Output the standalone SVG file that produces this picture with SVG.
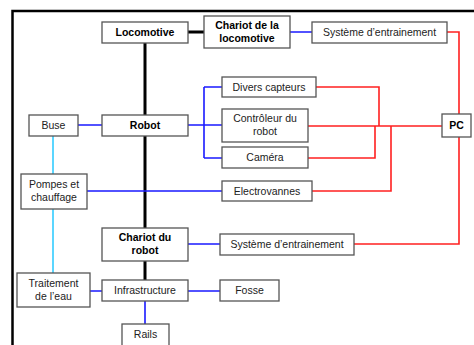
<svg xmlns="http://www.w3.org/2000/svg" width="474" height="345" viewBox="0 0 474 345">
<style>
.bx{fill:#fff;stroke:#555;stroke-width:1.3}
.t{font-family:"Liberation Sans",Arial,sans-serif;font-size:10.5px;fill:#222;text-anchor:middle}
.b{font-weight:bold;fill:#000}
.k{stroke:#000;stroke-width:3;fill:none}
.bl{stroke:#1a1aff;stroke-width:1.6;fill:none}
.r{stroke:#ff2020;stroke-width:1.6;fill:none}
.c{stroke:#33ccff;stroke-width:1.6;fill:none}
</style>
<rect x="0" y="0" width="474" height="345" fill="#fff"/>
<rect x="12.5" y="11" width="480" height="360" fill="none" stroke="#000" stroke-width="2.5"/>
<g id="connectors">
<path class="k" d="M145 43V115M145 136V228M145 261V280M188 32H204"/>
<path class="bl" d="M290 32H312M78 125H102M188 125H222M204 87V158M204 87H222M204 158H222M87 191H222M188 244H220M90 291H102M188 291H220M145 301V324"/>
<path class="r" d="M447 32H459V114M459 137V244H354M308 126H442M316 87H379V126M308 158H375V126M312 191H391V126"/>
<path class="c" d="M53 136V174M53 209V273"/>
</g>
<g id="locomotive"><rect class="bx" x="102" y="22" width="86" height="21"/><text class="t b" x="145" y="36">Locomotive</text></g>
<g id="chariot-loco"><rect class="bx" x="204" y="16" width="86" height="32"/><text class="t b" x="247" y="29">Chariot de la</text><text class="t b" x="247" y="42">locomotive</text></g>
<g id="systeme1"><rect class="bx" x="312" y="22" width="135" height="21"/><text class="t" x="379.5" y="36">Système d’entrainement</text></g>
<g id="pc"><rect class="bx" x="442" y="114" width="29" height="23"/><text class="t b" x="456.5" y="129">PC</text></g>
<g id="buse"><rect class="bx" x="29" y="115" width="49" height="21"/><text class="t" x="53.5" y="129">Buse</text></g>
<g id="robot"><rect class="bx" x="102" y="115" width="86" height="21"/><text class="t b" x="145" y="129">Robot</text></g>
<g id="divers"><rect class="bx" x="222" y="77" width="94" height="20"/><text class="t" x="269" y="91">Divers capteurs</text></g>
<g id="controleur"><rect class="bx" x="222" y="109" width="86" height="33"/><text class="t" x="265" y="122">Contrôleur du</text><text class="t" x="265" y="135">robot</text></g>
<g id="camera"><rect class="bx" x="222" y="147" width="86" height="21"/><text class="t" x="265" y="161">Caméra</text></g>
<g id="pompes"><rect class="bx" x="21" y="174" width="66" height="35"/><text class="t" x="54" y="188">Pompes et</text><text class="t" x="54" y="201">chauffage</text></g>
<g id="electrovannes"><rect class="bx" x="222" y="181" width="90" height="20"/><text class="t" x="267" y="195">Electrovannes</text></g>
<g id="chariot-robot"><rect class="bx" x="102" y="228" width="86" height="33"/><text class="t b" x="145" y="241">Chariot du</text><text class="t b" x="145" y="254">robot</text></g>
<g id="systeme2"><rect class="bx" x="220" y="234" width="134" height="21"/><text class="t" x="287" y="248">Système d’entrainement</text></g>
<g id="traitement"><rect class="bx" x="17" y="273" width="73" height="34"/><text class="t" x="53.5" y="287">Traitement</text><text class="t" x="53.5" y="300">de l’eau</text></g>
<g id="infrastructure"><rect class="bx" x="102" y="280" width="86" height="21"/><text class="t" x="145" y="294">Infrastructure</text></g>
<g id="fosse"><rect class="bx" x="220" y="280" width="59" height="21"/><text class="t" x="249.5" y="294">Fosse</text></g>
<g id="rails"><rect class="bx" x="122" y="324" width="47" height="30"/><text class="t" x="145.5" y="338">Rails</text></g>
</svg>
